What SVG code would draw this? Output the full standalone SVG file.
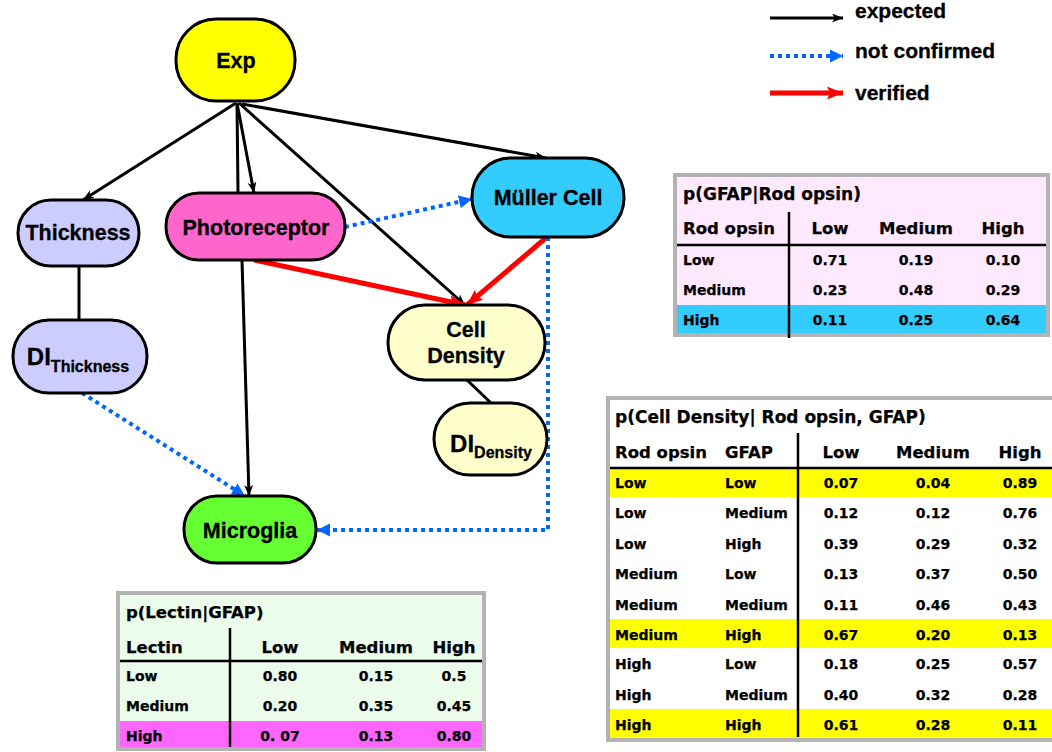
<svg xmlns="http://www.w3.org/2000/svg" width="1052" height="752" viewBox="0 0 1052 752">
  <style>
    .node { stroke: #000; stroke-width: 3; }
    .lbl { font-family: "Liberation Sans", Arial, sans-serif; font-weight: bold; font-size: 21.5px; fill: #000; stroke: #000; stroke-width: 0.3; text-anchor: middle; }
    .di { font-size: 24px; }
    .sub { font-size: 16px; }
    .exp { fill: none; stroke: #000; stroke-width: 3; }
    .ver { fill: none; stroke: #ff0000; stroke-width: 5; }
    .nc { fill: none; stroke: #0066ff; stroke-width: 4; stroke-dasharray: 4 4; }
    .legend { font-family: "Liberation Sans", Arial, sans-serif; font-weight: bold; font-size: 21px; fill: #000; stroke: #000; stroke-width: 0.3; }
    .tframe { stroke: #b3b3b3; stroke-width: 4; }
    .tt { font-family: "DejaVu Sans", Verdana, sans-serif; font-weight: bold; fill: #000; stroke: #000; stroke-width: 0.25; }
    .th { font-size: 16.5px; }
    .ti { font-size: 17px; }
    .td { font-size: 14px; }
    .c { text-anchor: middle; }
    .rule { stroke: #000; stroke-width: 2.5; }
  </style>
  <defs>
    <marker id="ahBlack" markerUnits="userSpaceOnUse" markerWidth="12" markerHeight="10" refX="11" refY="4.5" orient="auto">
      <path d="M0,0 L11,4.5 L0,9 L3,4.5 z" fill="#000"/>
    </marker>
    <marker id="ahRed" markerUnits="userSpaceOnUse" markerWidth="17" markerHeight="14" refX="16" refY="6.5" orient="auto">
      <path d="M0,0 L16,6.5 L0,13 L3,6.5 z" fill="#ff0000"/>
    </marker>
    <marker id="ahBlue" markerUnits="userSpaceOnUse" markerWidth="14" markerHeight="14" refX="13" refY="6.5" orient="auto">
      <path d="M0,0 L13,6.5 L0,13 z" fill="#0066ff"/>
    </marker>
  </defs>

  <rect width="1052" height="752" fill="#fff"/>

  <!-- legend -->
  <g id="legend">
    <line x1="770" y1="18" x2="843" y2="18" class="exp" marker-end="url(#ahBlack)"/>
    <text x="855" y="18" class="legend">expected</text>
    <line x1="770" y1="56" x2="843" y2="56" class="nc" marker-end="url(#ahBlue)"/>
    <text x="855" y="58" class="legend">not confirmed</text>
    <line x1="770" y1="93" x2="843" y2="93" class="ver" marker-end="url(#ahRed)"/>
    <text x="855" y="100" class="legend">verified</text>
  </g>

  <!-- connectors -->
  <g id="connectors">
    <line x1="236" y1="103" x2="83" y2="200" class="exp" marker-end="url(#ahBlack)"/>
    <line x1="237" y1="103" x2="238" y2="193" class="exp"/>
    <line x1="237" y1="103" x2="254" y2="193" class="exp" marker-end="url(#ahBlack)"/>
    <line x1="239" y1="103" x2="465" y2="305" class="exp" marker-end="url(#ahBlack)"/>
    <line x1="242" y1="104" x2="546" y2="158" class="exp" marker-end="url(#ahBlack)"/>
    <line x1="242" y1="260" x2="249" y2="496" class="exp" marker-end="url(#ahBlack)"/>
    <line x1="79" y1="266" x2="79" y2="320" class="exp"/>
    <line x1="467" y1="380" x2="491" y2="403" class="exp"/>
    <line x1="254" y1="260" x2="465" y2="305" class="ver" marker-end="url(#ahRed)"/>
    <line x1="547" y1="237" x2="467" y2="305" class="ver" marker-end="url(#ahRed)"/>
    <line x1="345" y1="227" x2="472" y2="199" class="nc" marker-end="url(#ahBlue)"/>
    <line x1="82" y1="393" x2="245" y2="496" class="nc" marker-end="url(#ahBlue)"/>
    <polyline points="548,237 548,530 317,530" class="nc" marker-end="url(#ahBlue)"/>
  </g>

  <!-- nodes -->
  <g id="exp">
    <rect x="176" y="19" width="119" height="82" rx="40" class="node" fill="#ffff00"/>
    <text x="236" y="68" class="lbl">Exp</text>
  </g>
  <g id="thickness">
    <rect x="18" y="200" width="121" height="66" rx="33" class="node" fill="#ccccff"/>
    <text x="78" y="240" class="lbl">Thickness</text>
  </g>
  <g id="photoreceptor">
    <rect x="166" y="193" width="179" height="67" rx="33" class="node" fill="#ff66cc"/>
    <text x="256" y="235" class="lbl">Photoreceptor</text>
  </g>
  <g id="muller">
    <rect x="472" y="158" width="152" height="79" rx="39" class="node" fill="#33ccff"/>
    <text x="548" y="205" class="lbl">Müller Cell</text>
  </g>
  <g id="di-thickness">
    <rect x="13" y="320" width="134" height="73" rx="36" class="node" fill="#ccccff"/>
    <text x="78" y="365" class="lbl"><tspan class="di">DI</tspan><tspan class="sub" dy="7">Thickness</tspan></text>
  </g>
  <g id="cell-density">
    <rect x="388" y="305" width="157" height="75" rx="37" class="node" fill="#ffffcc"/>
    <text x="466" y="337" class="lbl">Cell</text>
    <text x="466" y="363" class="lbl">Density</text>
  </g>
  <g id="di-density">
    <rect x="434" y="403" width="113" height="72" rx="36" class="node" fill="#ffffcc"/>
    <text x="491" y="452" class="lbl"><tspan class="di">DI</tspan><tspan class="sub" dy="6">Density</tspan></text>
  </g>
  <g id="microglia">
    <rect x="184" y="496" width="132" height="67" rx="33" class="node" fill="#66ff33"/>
    <text x="250" y="538" class="lbl">Microglia</text>
  </g>

  <!-- table: p(GFAP|Rod opsin) -->
  <g id="table-gfap">
    <rect x="675" y="175" width="373" height="160" class="tframe" fill="#ffe9ff"/>
    <rect x="677" y="305" width="369" height="28" fill="#33ccff"/>
    <line x1="677" y1="245" x2="1046" y2="245" class="rule"/>
    <line x1="789" y1="212" x2="789" y2="338" class="rule"/>
    <g class="tt">
      <text x="683" y="200" class="ti">p(GFAP|Rod opsin)</text>
      <text x="683" y="234" class="th">Rod opsin</text>
      <text x="830" y="234" class="th c">Low</text>
      <text x="916" y="234" class="th c">Medium</text>
      <text x="1003" y="234" class="th c">High</text>
      <text x="683" y="265" class="td">Low</text>
      <text x="830" y="265" class="td c">0.71</text>
      <text x="916" y="265" class="td c">0.19</text>
      <text x="1003" y="265" class="td c">0.10</text>
      <text x="683" y="295" class="td">Medium</text>
      <text x="830" y="295" class="td c">0.23</text>
      <text x="916" y="295" class="td c">0.48</text>
      <text x="1003" y="295" class="td c">0.29</text>
      <text x="683" y="325" class="td">High</text>
      <text x="830" y="325" class="td c">0.11</text>
      <text x="916" y="325" class="td c">0.25</text>
      <text x="1003" y="325" class="td c">0.64</text>
    </g>
  </g>

  <!-- table: p(Cell Density| Rod opsin, GFAP) -->
  <g id="table-density">
    <rect x="608" y="398" width="460" height="342" class="tframe" fill="#ffffff"/>
    <rect x="610" y="469" width="442" height="28" fill="#ffff00"/>
    <rect x="610" y="619" width="442" height="29" fill="#ffff00"/>
    <rect x="610" y="709" width="442" height="29" fill="#ffff00"/>
    <line x1="610" y1="468" x2="1052" y2="468" class="rule"/>
    <line x1="798" y1="433" x2="798" y2="737" class="rule"/>
    <g class="tt">
      <text x="615" y="423" class="ti">p(Cell Density| Rod opsin, GFAP)</text>
      <text x="615" y="458" class="th">Rod opsin</text>
      <text x="725" y="458" class="th">GFAP</text>
      <text x="841" y="458" class="th c">Low</text>
      <text x="933" y="458" class="th c">Medium</text>
      <text x="1020" y="458" class="th c">High</text>

      <text x="615" y="488" class="td">Low</text><text x="725" y="488" class="td">Low</text>
      <text x="841" y="488" class="td c">0.07</text><text x="933" y="488" class="td c">0.04</text><text x="1020" y="488" class="td c">0.89</text>

      <text x="615" y="518" class="td">Low</text><text x="725" y="518" class="td">Medium</text>
      <text x="841" y="518" class="td c">0.12</text><text x="933" y="518" class="td c">0.12</text><text x="1020" y="518" class="td c">0.76</text>

      <text x="615" y="549" class="td">Low</text><text x="725" y="549" class="td">High</text>
      <text x="841" y="549" class="td c">0.39</text><text x="933" y="549" class="td c">0.29</text><text x="1020" y="549" class="td c">0.32</text>

      <text x="615" y="579" class="td">Medium</text><text x="725" y="579" class="td">Low</text>
      <text x="841" y="579" class="td c">0.13</text><text x="933" y="579" class="td c">0.37</text><text x="1020" y="579" class="td c">0.50</text>

      <text x="615" y="610" class="td">Medium</text><text x="725" y="610" class="td">Medium</text>
      <text x="841" y="610" class="td c">0.11</text><text x="933" y="610" class="td c">0.46</text><text x="1020" y="610" class="td c">0.43</text>

      <text x="615" y="640" class="td">Medium</text><text x="725" y="640" class="td">High</text>
      <text x="841" y="640" class="td c">0.67</text><text x="933" y="640" class="td c">0.20</text><text x="1020" y="640" class="td c">0.13</text>

      <text x="615" y="669" class="td">High</text><text x="725" y="669" class="td">Low</text>
      <text x="841" y="669" class="td c">0.18</text><text x="933" y="669" class="td c">0.25</text><text x="1020" y="669" class="td c">0.57</text>

      <text x="615" y="700" class="td">High</text><text x="725" y="700" class="td">Medium</text>
      <text x="841" y="700" class="td c">0.40</text><text x="933" y="700" class="td c">0.32</text><text x="1020" y="700" class="td c">0.28</text>

      <text x="615" y="730" class="td">High</text><text x="725" y="730" class="td">High</text>
      <text x="841" y="730" class="td c">0.61</text><text x="933" y="730" class="td c">0.28</text><text x="1020" y="730" class="td c">0.11</text>
    </g>
  </g>

  <!-- table: p(Lectin|GFAP) -->
  <g id="table-lectin">
    <rect x="118" y="593" width="366" height="156" class="tframe" fill="#ebfceb"/>
    <rect x="120" y="721" width="362" height="26" fill="#ff66ff"/>
    <line x1="120" y1="661" x2="482" y2="661" class="rule"/>
    <line x1="230" y1="628" x2="230" y2="747" class="rule"/>
    <g class="tt">
      <text x="126" y="618" class="th">p(Lectin|GFAP)</text>
      <text x="126" y="653" class="th">Lectin</text>
      <text x="280" y="653" class="th c">Low</text>
      <text x="376" y="653" class="th c">Medium</text>
      <text x="454" y="653" class="th c">High</text>
      <text x="126" y="681" class="td">Low</text>
      <text x="280" y="681" class="td c">0.80</text>
      <text x="376" y="681" class="td c">0.15</text>
      <text x="454" y="681" class="td c">0.5</text>
      <text x="126" y="711" class="td">Medium</text>
      <text x="280" y="711" class="td c">0.20</text>
      <text x="376" y="711" class="td c">0.35</text>
      <text x="454" y="711" class="td c">0.45</text>
      <text x="126" y="741" class="td">High</text>
      <text x="280" y="741" class="td c">0. 07</text>
      <text x="376" y="741" class="td c">0.13</text>
      <text x="454" y="741" class="td c">0.80</text>
    </g>
  </g>
</svg>
